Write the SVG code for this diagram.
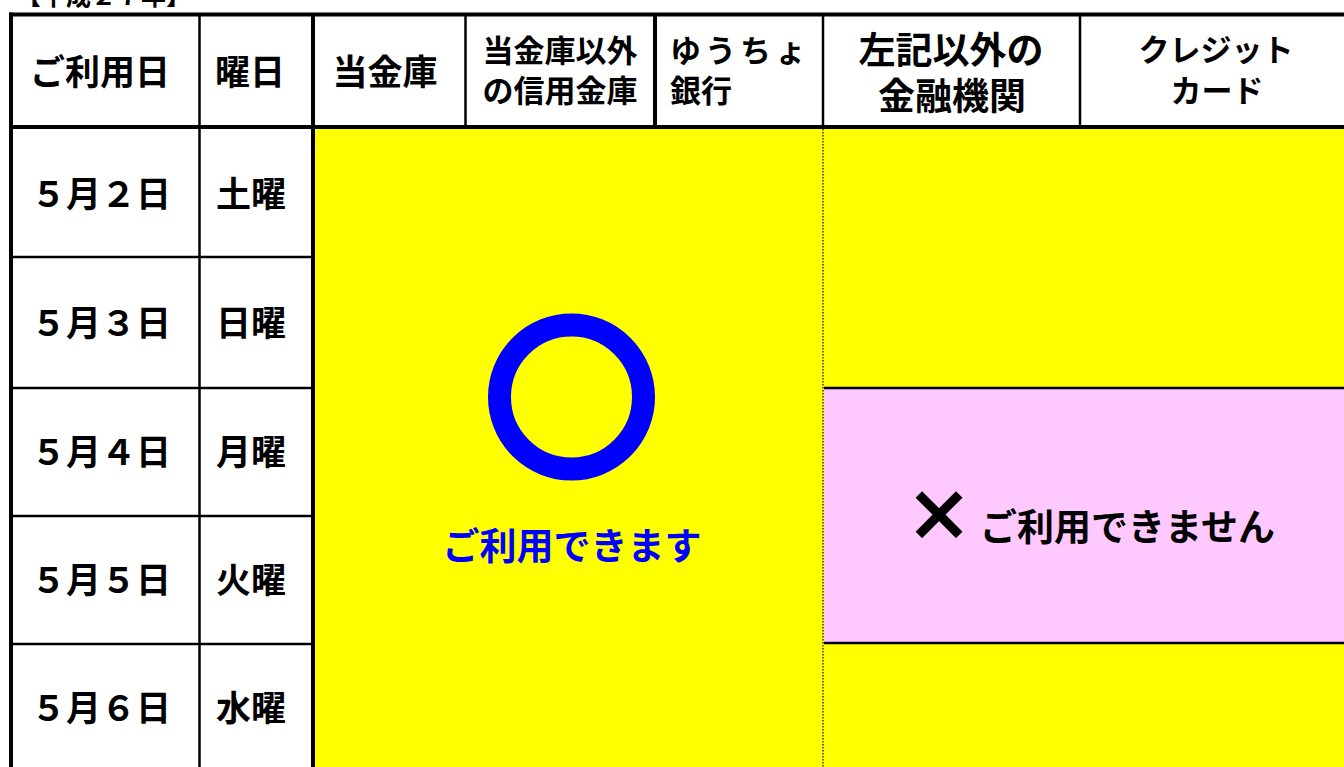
<svg xmlns="http://www.w3.org/2000/svg" width="1344" height="767" viewBox="0 0 1344 767">
<style>
text{font-family:"Noto Sans CJK JP","Noto Sans CJK SC",sans-serif;font-weight:bold;fill:#000}
.h35{font-size:35px}
.h31{font-size:31px}
.h36{font-size:36px}
.h37{font-size:37px}
.c{text-anchor:middle}
.thin{stroke:#000;stroke-width:2.5;fill:none}
.thick{stroke:#000;stroke-width:4;fill:none}
</style>
<rect width="1344" height="767" fill="#fff"/>
<g id="title"><text x="16" y="5" font-size="25">【平成２７年】</text></g>
<g id="fills">
<rect x="315" y="129" width="1029" height="638" fill="#ffff00"/>
<rect x="824" y="388" width="520" height="255" fill="#ffc8ff"/>
</g>
<g id="grid">
<line class="thin" x1="12" y1="257" x2="313" y2="257"/>
<line class="thin" x1="12" y1="388" x2="313" y2="388"/>
<line class="thin" x1="12" y1="516" x2="313" y2="516"/>
<line class="thin" x1="12" y1="644" x2="313" y2="644"/>
<line class="thin" x1="199.5" y1="15" x2="199.5" y2="767"/>
<line class="thin" x1="465.5" y1="15" x2="465.5" y2="129"/>
<line class="thick" x1="655" y1="15" x2="655" y2="129"/>
<line class="thin" x1="1080" y1="15" x2="1080" y2="129"/>
<line class="thin" x1="823" y1="15" x2="823" y2="129"/>
<line stroke="#333" stroke-width="1.5" stroke-dasharray="1.5,1.5" x1="823" y1="129" x2="823" y2="767"/>
<line class="thin" x1="824" y1="388" x2="1344" y2="388"/>
<line class="thin" x1="824" y1="643" x2="1344" y2="643"/>
<line class="thick" x1="11" y1="12.5" x2="11" y2="767"/>
<line class="thick" x1="313" y1="15" x2="313" y2="767"/>
<line class="thick" x1="9" y1="14.5" x2="1344" y2="14.5"/>
<line class="thick" x1="9" y1="127" x2="1344" y2="127"/>
</g>
<g id="header">
<text class="h35 c" x="100" y="85">ご利用日</text>
<text class="h35 c" x="250" y="85">曜日</text>
<text class="h35 c" x="385" y="85">当金庫</text>
<text class="h31 c" x="560" y="62">当金庫以外</text>
<text class="h31 c" x="560" y="102">の信用金庫</text>
<text class="h31" x="670" y="62" letter-spacing="4">ゆうちょ</text>
<text class="h31" x="670" y="102">銀行</text>
<text class="h37 c" x="951" y="64">左記以外の</text>
<text class="h37 c" x="952" y="110">金融機関</text>
<text class="h31 c" x="1216" y="61">クレジット</text>
<text class="h31 c" x="1217" y="102">カード</text>
</g>
<g id="rows">
<text class="h35 c" x="101" y="207">５月２日</text>
<text class="h35 c" x="251" y="207">土曜</text>
<text class="h35 c" x="101" y="336">５月３日</text>
<text class="h35 c" x="251" y="336">日曜</text>
<text class="h35 c" x="101" y="465">５月４日</text>
<text class="h35 c" x="251" y="465">月曜</text>
<text class="h35 c" x="101" y="593">５月５日</text>
<text class="h35 c" x="251" y="593">火曜</text>
<text class="h35 c" x="101" y="721">５月６日</text>
<text class="h35 c" x="251" y="721">水曜</text>
</g>
<g id="available">
<circle cx="571.5" cy="397" r="72" fill="none" stroke="#0000ff" stroke-width="23"/>
<text class="h37 c" x="572" y="560" style="fill:#0000ff">ご利用できます</text>
</g>
<g id="unavailable">
<text x="939" y="540" font-size="66" text-anchor="middle" stroke="#000" stroke-width="2.5">×</text>
<text class="h37" x="980" y="541">ご利用できません</text>
</g>
</svg>
